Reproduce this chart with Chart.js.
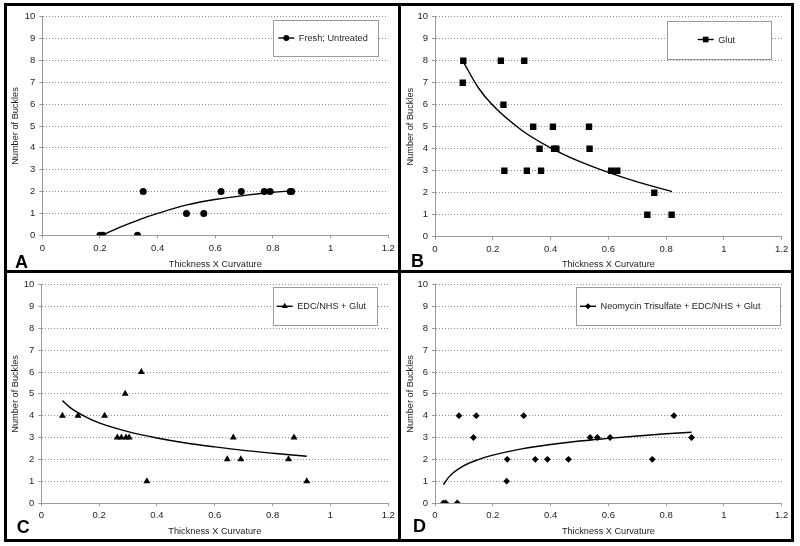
<!DOCTYPE html>
<html>
<head>
<meta charset="utf-8">
<script src="https://cdn.jsdelivr.net/npm/chart.js@4/dist/chart.umd.min.js"></script>
<style>
  html, body { margin:0; padding:0; background:#fff; }
  #wrap { position:relative; width:800px; height:546px; background:#fff; overflow:hidden; }
  canvas.panel { position:absolute; }
  .frame { position:absolute; background:#000; z-index:5; }
</style>
</head>
<body>
<div id="wrap">
  <canvas class="panel" id="cA" width="400" height="273" style="left:0;top:0"></canvas>
  <canvas class="panel" id="cB" width="400" height="273" style="left:400px;top:0"></canvas>
  <canvas class="panel" id="cC" width="400" height="273" style="left:0;top:273px"></canvas>
  <canvas class="panel" id="cD" width="400" height="273" style="left:400px;top:273px"></canvas>
  <div class="frame" style="left:4px;top:3px;width:790px;height:3px"></div>
  <div class="frame" style="left:4px;top:539px;width:790px;height:3px"></div>
  <div class="frame" style="left:4px;top:3px;width:3px;height:539px"></div>
  <div class="frame" style="left:791px;top:3px;width:3px;height:539px"></div>
  <div class="frame" style="left:398px;top:3px;width:3px;height:539px"></div>
  <div class="frame" style="left:4px;top:270px;width:790px;height:3px"></div>
</div>
<script>
// ---------- tick labels ----------
const xTicks = [0, 0.2, 0.4, 0.6, 0.8, 1, 1.2];
const yTicks = [0, 1, 2, 3, 4, 5, 6, 7, 8, 9, 10];
const xTitle = "Thickness X Curvature";
const yTitle = "Number of Buckles";

// ---------- A: Fresh; Untreated ----------
const freshLabel = "Fresh; Untreated";
const freshX = [0.20, 0.21, 0.33, 0.35, 0.50, 0.56, 0.62, 0.69, 0.77, 0.79, 0.86, 0.865];
const freshY = [0, 0, 0, 2, 1, 1, 2, 2, 2, 2, 2, 2];
const freshTrendX = [0.206, 0.27, 0.339, 0.40, 0.501, 0.605, 0.709, 0.80, 0.865];
const freshTrendY = [0.0, 0.37, 0.73, 1.0, 1.39, 1.65, 1.84, 1.97, 2.03];

// ---------- B: Glut ----------
const glutLabel = "Glut";
const glutX = [0.098, 0.096, 0.228, 0.309, 0.237, 0.240, 0.340, 0.408, 0.533, 0.362, 0.412, 0.420, 0.535, 0.318, 0.367, 0.610, 0.631, 0.759, 0.735, 0.819];
const glutY = [8, 7, 8, 8, 6, 3, 5, 5, 5, 4, 4, 4, 4, 3, 3, 3, 3, 2, 1, 1];
const glutTrendX = [0.098, 0.15, 0.20, 0.30, 0.40, 0.50, 0.60, 0.70, 0.82];
const glutTrendY = [7.95, 6.77, 5.97, 4.84, 4.04, 3.42, 2.92, 2.49, 2.05];

// ---------- C: EDC/NHS + Glut ----------
const edcLabel = "EDC/NHS + Glut";
const edcX = [0.073, 0.127, 0.219, 0.263, 0.277, 0.293, 0.304, 0.290, 0.346, 0.365, 0.643, 0.664, 0.690, 0.855, 0.874, 0.918];
const edcY = [4, 4, 4, 3, 3, 3, 3, 5, 6, 1, 2, 3, 2, 2, 3, 1];
const edcTrendX = [0.073, 0.10, 0.15, 0.20, 0.30, 0.40, 0.50, 0.60, 0.70, 0.80, 0.918];
const edcTrendY = [4.69, 4.37, 3.97, 3.67, 3.27, 2.98, 2.75, 2.57, 2.41, 2.28, 2.14];

// ---------- D: Neomycin Trisulfate + EDC/NHS + Glut ----------
const neoLabel = "Neomycin Trisulfate + EDC/NHS + Glut";
const neoX = [0.029, 0.037, 0.077, 0.083, 0.143, 0.133, 0.248, 0.250, 0.307, 0.347, 0.389, 0.462, 0.537, 0.562, 0.606, 0.752, 0.827, 0.888];
const neoY = [0, 0, 0, 4, 4, 3, 1, 2, 4, 2, 2, 2, 3, 3, 3, 2, 4, 3];
const neoTrendX = [0.029, 0.05, 0.10, 0.15, 0.20, 0.30, 0.40, 0.50, 0.60, 0.70, 0.80, 0.888];
const neoTrendY = [0.84, 1.22, 1.71, 1.99, 2.19, 2.48, 2.68, 2.84, 2.96, 3.07, 3.17, 3.24];

// ---------- helpers ----------
const FONT = "'Liberation Sans', Arial, sans-serif";
const TXT = "#1e1e1e";

function pts(xs, ys) { return xs.map((x, i) => ({ x: x, y: ys[i] })); }

function drawMarker(ctx, style, x, y, r) {
  ctx.beginPath();
  if (style === 'circle') {
    ctx.arc(x, y, r, 0, Math.PI * 2);
  } else if (style === 'rect') {
    const s = r * Math.SQRT1_2;
    ctx.rect(x - s, y - s, 2 * s, 2 * s);
  } else if (style === 'triangle') {
    const h = r * Math.sin(Math.PI / 3);
    ctx.moveTo(x, y - r);
    ctx.lineTo(x + h, y + r / 2);
    ctx.lineTo(x - h, y + r / 2);
    ctx.closePath();
  } else if (style === 'rectRot') {
    ctx.moveTo(x, y - r); ctx.lineTo(x + r, y); ctx.lineTo(x, y + r); ctx.lineTo(x - r, y); ctx.closePath();
  }
  ctx.fill();
}

const panelDecor = {
  id: 'panelDecor',
  afterDatasetsDraw(chart, args, opts) {
    const ctx = chart.ctx;
    const L = opts.legend;
    ctx.save();
    // legend box
    ctx.fillStyle = '#fff';
    ctx.fillRect(L.x, L.y, L.w, L.h);
    ctx.strokeStyle = '#9a9a9a';
    ctx.lineWidth = 1;
    ctx.strokeRect(Math.round(L.x) + 0.5, Math.round(L.y) + 0.5, Math.round(L.w), Math.round(L.h));
    const cy = L.y + L.h / 2;
    ctx.strokeStyle = '#000';
    ctx.lineWidth = 1.4;
    ctx.beginPath();
    ctx.moveTo(L.x + L.lx, cy);
    ctx.lineTo(L.x + L.lx + 16, cy);
    ctx.stroke();
    ctx.fillStyle = '#000';
    drawMarker(ctx, opts.marker, L.x + L.lx + 8, cy, opts.markerR);
    ctx.fillStyle = TXT;
    ctx.font = "9.2px " + FONT;
    ctx.textBaseline = 'middle';
    ctx.textAlign = 'left';
    ctx.fillText(opts.label, L.x + L.lx + 20.5, cy + 0.5);
    // panel letter
    ctx.fillStyle = '#000';
    ctx.font = "bold 18px " + FONT;
    ctx.textBaseline = 'alphabetic';
    ctx.fillText(opts.letter.text, opts.letter.x, opts.letter.y);
    ctx.restore();
  }
};

function makePanel(id, cfg) {
  const area = cfg.area;
  const W = 400, H = 273;
  new Chart(document.getElementById(id), {
    type: 'scatter',
    data: {
      datasets: [
        {
          type: 'line',
          data: pts(cfg.trendX, cfg.trendY),
          borderColor: '#000',
          borderWidth: 1.4,
          pointRadius: 0,
          fill: false,
          cubicInterpolationMode: 'monotone',
          order: 2
        },
        {
          data: pts(cfg.x, cfg.y),
          pointStyle: cfg.marker,
          pointRadius: cfg.markerR,
          backgroundColor: '#000',
          borderColor: '#000',
          borderWidth: 0,
          order: 1
        }
      ]
    },
    options: {
      responsive: false,
      animation: false,
      devicePixelRatio: 1,
      events: [],
      layout: { padding: { left: 0, top: area.t, right: W - area.r, bottom: 0 } },
      plugins: {
        legend: { display: false },
        tooltip: { enabled: false },
        panelDecor: { legend: cfg.legend, marker: cfg.marker, markerR: cfg.legendR, label: cfg.label, letter: cfg.letter }
      },
      scales: {
        x: {
          type: 'linear',
          min: xTicks[0], max: xTicks[xTicks.length - 1],
          afterBuildTicks: s => { s.ticks = xTicks.map(v => ({ value: v })); },
          afterFit: s => { s.height = H - area.b; },
          ticks: {
            callback: v => String(v),
            color: TXT, font: { family: FONT, size: 9.5 }, padding: 4,
            maxRotation: 0, autoSkip: false
          },
          grid: { drawOnChartArea: false, drawTicks: true, tickLength: 3, tickColor: '#9a9a9a', tickWidth: 1 },
          border: { display: true, color: '#9a9a9a', width: 1 },
          title: { display: true, text: xTitle, color: TXT, font: { family: FONT, size: 9.2 }, padding: { top: 0, bottom: cfg.xTitlePad } }
        },
        y: {
          type: 'linear',
          min: yTicks[0], max: yTicks[yTicks.length - 1],
          afterBuildTicks: s => { s.ticks = yTicks.map(v => ({ value: v })); },
          afterFit: s => { s.width = area.l; },
          ticks: {
            callback: v => String(v),
            color: TXT, font: { family: FONT, size: 9.5 }, padding: 4, autoSkip: false
          },
          grid: {
            drawOnChartArea: true, drawTicks: true, tickLength: 3, tickColor: '#9a9a9a', tickWidth: 1,
            color: '#8a8a8a', lineWidth: 1, borderDash: [1, 2]
          },
          border: { display: true, color: '#9a9a9a', width: 1, dash: [1, 2] },
          title: { display: true, text: yTitle, color: TXT, font: { family: FONT, size: 9.2 }, padding: { top: cfg.yTitlePad, bottom: 0 } }
        }
      }
    },
    plugins: [panelDecor]
  });
}

makePanel('cA', {
  x: freshX, y: freshY, trendX: freshTrendX, trendY: freshTrendY, label: freshLabel,
  marker: 'circle', markerR: 3.5, legendR: 3,
  area: { l: 42.3, r: 388.3, t: 16.7, b: 235.3 },
  legend: { x: 273.3, y: 20, w: 105, h: 36, lx: 5 },
  letter: { text: 'A', x: 15, y: 268 },
  yTitlePad: 10.3, xTitlePad: 2.6
});
makePanel('cB', {
  x: glutX, y: glutY, trendX: glutTrendX, trendY: glutTrendY, label: glutLabel,
  marker: 'rect', markerR: 4.5, legendR: 4,
  area: { l: 35, r: 381.7, t: 16.7, b: 236.7 },
  legend: { x: 266.7, y: 20.7, w: 104, h: 37.6, lx: 31 },
  letter: { text: 'B', x: 11, y: 267 },
  yTitlePad: 4.6, xTitlePad: 2.6
});
makePanel('cC', {
  x: edcX, y: edcY, trendX: edcTrendX, trendY: edcTrendY, label: edcLabel,
  marker: 'triangle', markerR: 4, legendR: 3.5,
  area: { l: 41.3, r: 388.3, t: 11.7, b: 230 },
  legend: { x: 273.3, y: 14.3, w: 104, h: 38, lx: 3.4 },
  letter: { text: 'C', x: 16.7, y: 260 },
  yTitlePad: 10.3, xTitlePad: 9.3
});
makePanel('cD', {
  x: neoX, y: neoY, trendX: neoTrendX, trendY: neoTrendY, label: neoLabel,
  marker: 'rectRot', markerR: 3.4, legendR: 3,
  area: { l: 35, r: 381.7, t: 11.7, b: 230 },
  legend: { x: 175.7, y: 14.3, w: 204.3, h: 38, lx: 4.3 },
  letter: { text: 'D', x: 13, y: 258.7 },
  yTitlePad: 4.6, xTitlePad: 9.3
});
</script>
</body>
</html>
